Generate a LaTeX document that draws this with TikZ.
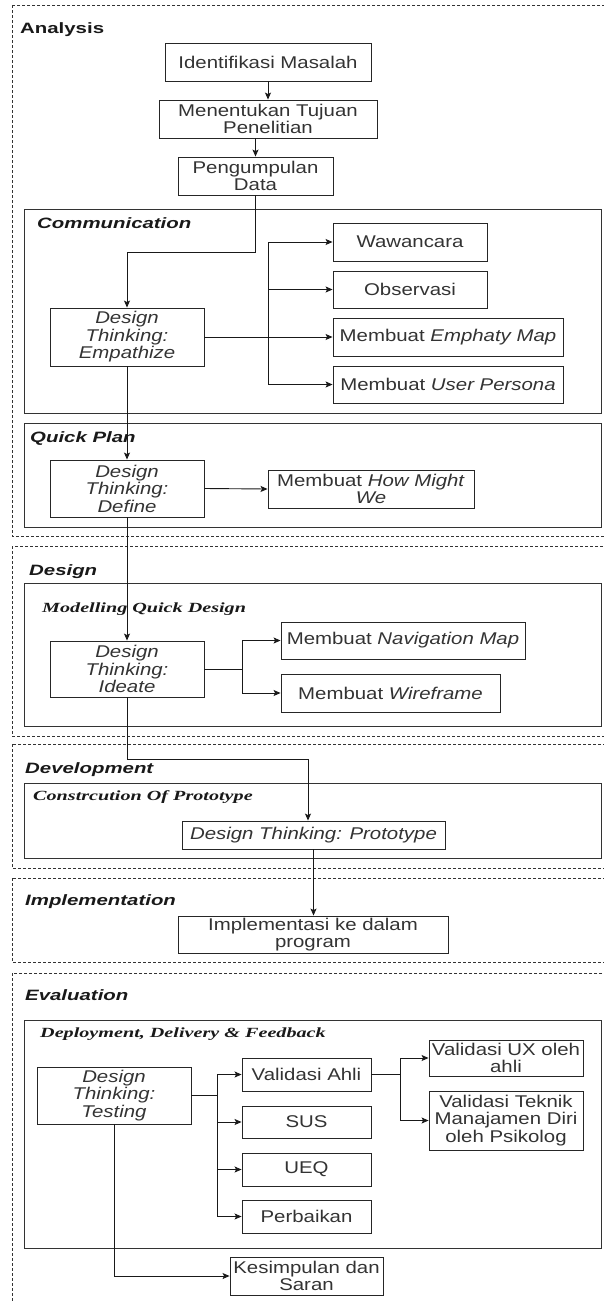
\documentclass[tikz,border=0pt]{standalone}
\usepackage{fontspec}
\setmainfont{Liberation Sans}
\newfontfamily\boxfont[FakeStretch=1.2]{Liberation Sans}
\newfontfamily\ttlfont[FakeStretch=1.36]{Liberation Sans}
\newfontfamily\serfont[FakeStretch=1.44]{Liberation Serif}
\usetikzlibrary{arrows.meta}
\definecolor{txt}{HTML}{333333}
\tikzset{
  bx/.style={draw=black!85, line width=0.9pt, inner sep=0pt, align=center, text=txt,
    font=\boxfont\fontsize{17}{17.5}\selectfont},
  dt/.style={bx, font=\boxfont\itshape\fontsize{17}{17.5}\selectfont},
  arr/.style={-{Stealth[length=7pt,width=6pt,inset=1.5pt]}, line width=0.9pt, draw=black!90},
  ln/.style={line width=0.9pt, draw=black!90},
  outerbox/.style={draw=black!80, dash pattern=on 3pt off 2pt, line width=0.7pt},
  innerbox/.style={draw=black!80, line width=0.9pt},
  ttl/.style={anchor=base west, inner sep=0pt, text=black!90,
    font=\ttlfont\bfseries\itshape\fontsize{15}{15}\selectfont},
  ttlup/.style={anchor=base west, inner sep=0pt, text=black!90,
    font=\ttlfont\bfseries\fontsize{15}{15}\selectfont},
  sttl/.style={anchor=base west, inner sep=0pt, text=black!90,
    font=\serfont\bfseries\itshape\fontsize{14}{14}\selectfont}
}
\begin{document}
\begin{tikzpicture}[x=1pt,y=-1pt]
\useasboundingbox (0,0) rectangle (603,1301);
% containers
\draw[outerbox] (12,5) rectangle (615,536);
\draw[innerbox] (24,209) rectangle (601.5,413);
\draw[innerbox] (24,423) rectangle (601.5,527);
\draw[outerbox] (12,546) rectangle (615,736);
\draw[innerbox] (24,583) rectangle (601.5,726);
\draw[outerbox] (12,744) rectangle (615,868);
\draw[innerbox] (24,783) rectangle (601.5,858);
\draw[outerbox] (12,878) rectangle (615,962);
\draw[outerbox] (12,973) rectangle (615,1330);
\draw[innerbox] (24,1020) rectangle (601.5,1248);
% titles
\node[ttlup] (tAnalysis) at (20,33) {Analysis};
\node[ttl] (tComm) at (37,228) {Communication};
\node[ttl] (tQuick) at (30,442) {Quick Plan};
\node[ttl] (tDesign) at (29,575) {Design};
\node[sttl] (tModel) at (42,612) {Modelling Quick Design};
\node[ttl] (tDev) at (25,773) {Development};
\node[sttl] (tCons) at (33,800) {Constrcution Of Prototype};
\node[ttl] (tImpl) at (25,905) {Implementation};
\node[ttl] (tEval) at (25,1000) {Evaluation};
\node[sttl] (tDeploy) at (40,1037) {Deployment, Delivery \& Feedback};
% nodes
\node[bx, minimum width=206pt, minimum height=38pt] (ident) at (268,62) {Identifikasi Masalah};
\node[bx, minimum width=218pt, minimum height=38pt] (tujuan) at (268,119) {Menentukan Tujuan\\Penelitian};
\node[bx, minimum width=155pt, minimum height=38pt] (data) at (255.5,176) {Pengumpulan\\Data};
\node[dt, minimum width=154pt, minimum height=58pt] (emp) at (127,337) {Design\\Thinking:\\Empathize};
\node[bx, minimum width=154pt, minimum height=38pt] (wawan) at (410,242) {Wawancara};
\node[bx, minimum width=154pt, minimum height=37pt] (obs) at (410,289.5) {Observasi};
\node[bx, minimum width=230pt, minimum height=38pt] (emap) at (448,337) {Membuat \textit{Emphaty Map}};
\node[bx, minimum width=230pt, minimum height=37pt] (upers) at (448,384.5) {Membuat \textit{User Persona}};
\node[dt, minimum width=154pt, minimum height=57pt] (def) at (127,488.5) {Design\\Thinking:\\Define};
\node[bx, minimum width=206pt, minimum height=38pt] (hmw) at (371,489) {Membuat \textit{How Might}\\\textit{We}};
\node[dt, minimum width=154pt, minimum height=56pt] (ideate) at (127,669) {Design\\Thinking:\\Ideate};
\node[bx, minimum width=244pt, minimum height=37pt] (navmap) at (403,640.5) {Membuat \textit{Navigation Map}};
\node[bx, minimum width=219pt, minimum height=38pt] (wire) at (390.5,693) {Membuat \textit{Wireframe}};
\node[dt, minimum width=263pt, minimum height=28pt] (proto) at (313.5,835) {Design Thinking: Prototype};
\node[bx, minimum width=270pt, minimum height=37pt] (impl) at (313,934.5) {Implementasi ke dalam\\program};
\node[dt, minimum width=154pt, minimum height=57pt] (test) at (114,1095.5) {Design\\Thinking:\\Testing};
\node[bx, minimum width=129pt, minimum height=33pt] (vahli) at (306.5,1074.5) {Validasi Ahli};
\node[bx, minimum width=129pt, minimum height=32pt] (sus) at (306.5,1122) {SUS};
\node[bx, minimum width=129pt, minimum height=33pt] (ueq) at (306.5,1169.5) {UEQ};
\node[bx, minimum width=129pt, minimum height=33pt] (perb) at (306.5,1216.5) {Perbaikan};
\node[bx, minimum width=154pt, minimum height=36pt] (vux) at (506,1058) {Validasi UX oleh\\ahli};
\node[bx, minimum width=154pt, minimum height=59pt] (vtek) at (506,1120.5) {Validasi Teknik\\Manajamen Diri\\oleh Psikolog};
\node[bx, minimum width=153pt, minimum height=38pt] (kes) at (306.5,1276) {Kesimpulan dan\\Saran};
% helper coordinates
\coordinate (c1) at (0,252);
\coordinate (b1) at (268,0);
\coordinate (b2) at (242,0);
\coordinate (c2) at (308,759);
\coordinate (b3) at (217,0);
\coordinate (b4) at (400,0);
% connectors
\draw[arr] (ident.south) -- (tujuan.north);
\draw[arr] (tujuan.south -| data.north) -- (data.north);
\draw[arr] (data.south) -- (data.south |- c1) -| (emp.north);
\draw[arr] (emp.east) -- (emap.west);
\draw[arr] (b1 |- upers.west) |- (wawan.west);
\draw[arr] (b1 |- obs.west) -- (obs.west);
\draw[arr] (b1 |- wawan.west) |- (upers.west);
\draw[arr] (emp.south) -- (def.north);
\draw[arr] (def.east) -- (hmw.west);
\draw[arr] (def.south) -- (ideate.north);
\draw[ln] (ideate.east) -- (ideate.east -| b2);
\draw[arr] (ideate.east -| b2) |- (navmap.west);
\draw[arr] (ideate.east -| b2) |- (wire.west);
\draw[arr] (ideate.south) |- (c2) -- (c2 |- proto.north);
\draw[arr] (proto.south) -- (proto.south |- impl.north);
\draw[ln] (test.east) -- (test.east -| b3);
\draw[arr] (test.east -| b3) |- (vahli.west);
\draw[arr] (test.east -| b3) |- (sus.west);
\draw[arr] (test.east -| b3) |- (ueq.west);
\draw[arr] (test.east -| b3) |- (perb.west);
\draw[ln] (vahli.east) -- (vahli.east -| b4);
\draw[arr] (vahli.east -| b4) |- (vux.west);
\draw[arr] (vahli.east -| b4) |- (vtek.west);
\draw[arr] (test.south) |- (kes.west);
\end{tikzpicture}
\end{document}
